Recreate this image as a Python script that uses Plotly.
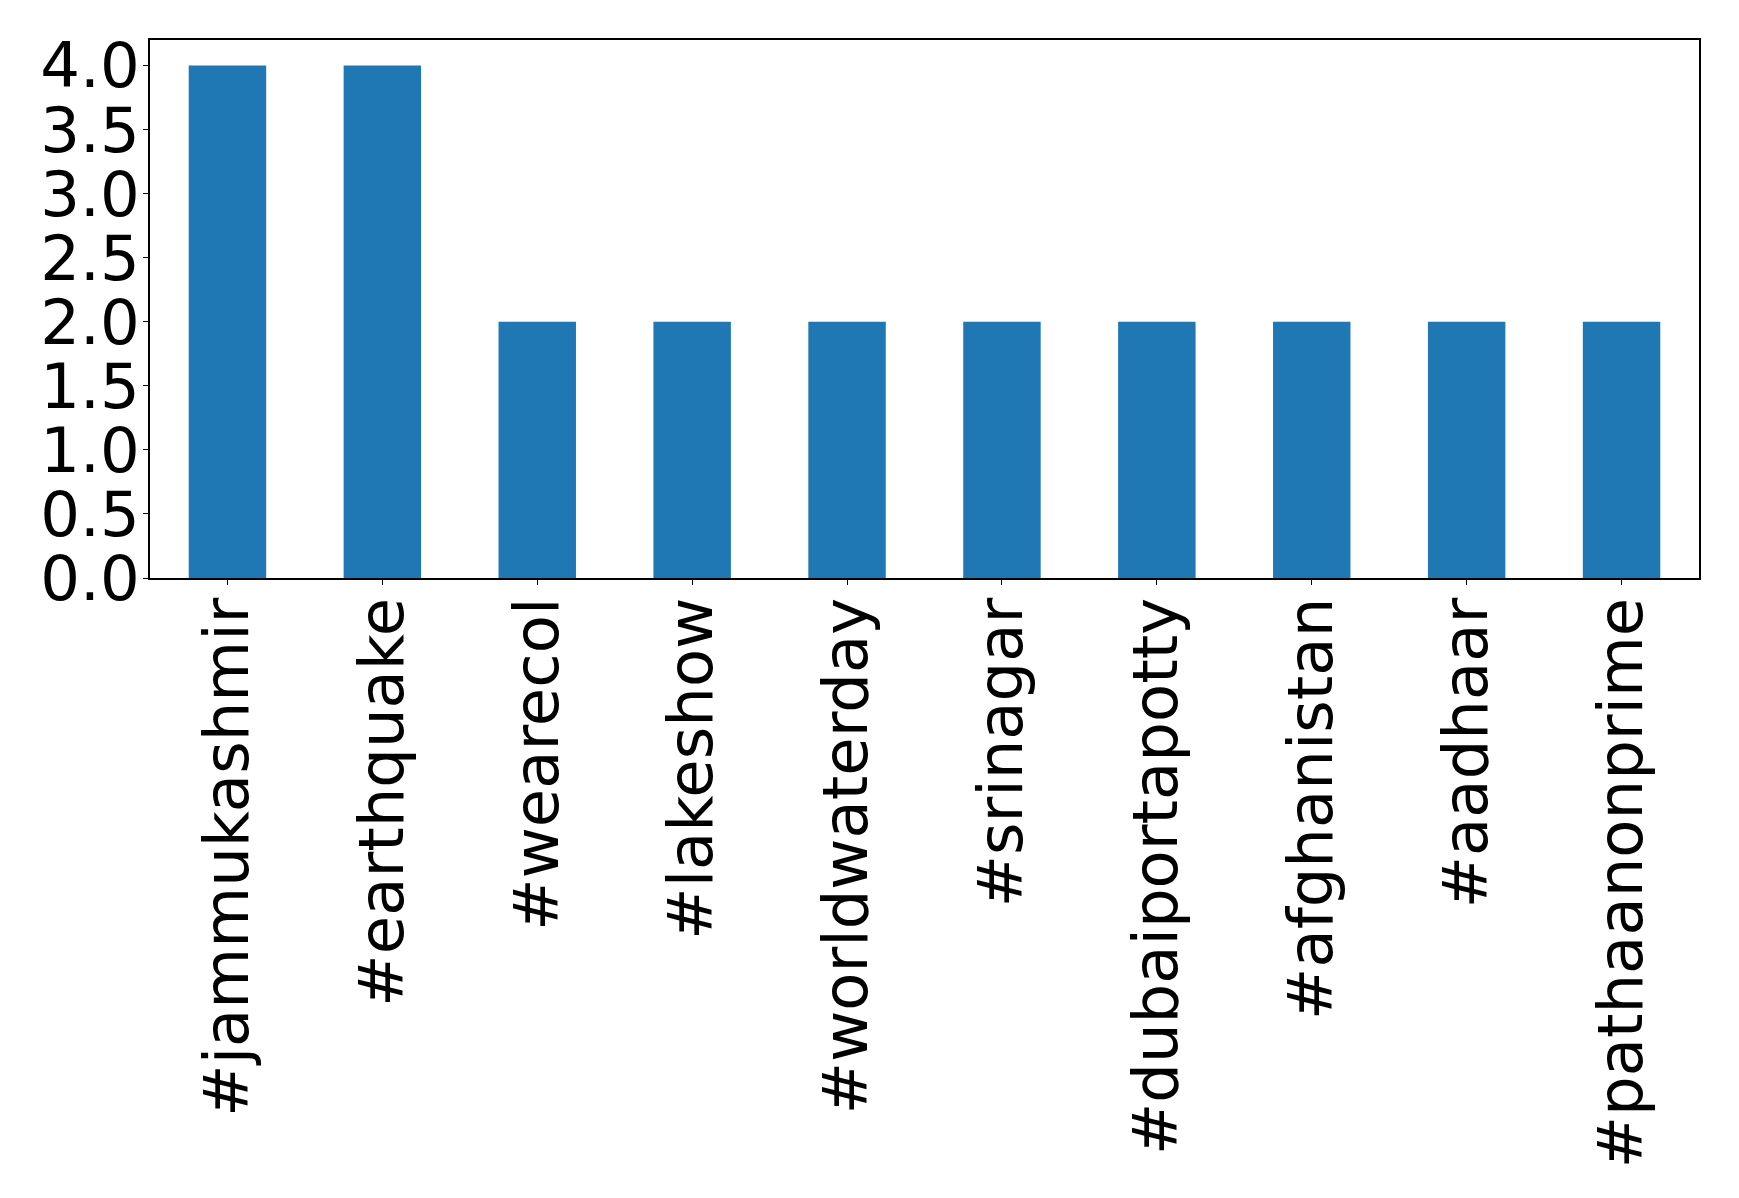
import plotly.graph_objects as go

categories = ["#jammukashmir", "#earthquake", "#wearecol", "#lakeshow", "#worldwaterday",
              "#srinagar", "#dubaiportapotty", "#afghanistan", "#aadhaar", "#pathaanonprime"]
values = [4, 4, 2, 2, 2, 2, 2, 2, 2, 2]
y_ticks = [0.0, 0.5, 1.0, 1.5, 2.0, 2.5, 3.0, 3.5, 4.0]

W, H = 1739, 1198
OFF = 8  # page body margin
L, R, T, B = 149.5 - OFF, 1699.5 - OFF, 39.5 - OFF, 578 - OFF

fig = go.Figure(go.Bar(x=list(range(len(categories))), y=values, width=0.5,
                       marker=dict(color="#1f77b4", line=dict(width=0))))

font = dict(family="DejaVu Sans", size=62.5, color="black")
fig.update_layout(
    width=W, height=H,
    margin=dict(l=L, r=W - R, t=T, b=H - B, pad=0),
    paper_bgcolor="white", plot_bgcolor="white",
    showlegend=False,
    font=font,
)
fig.update_xaxes(
    range=[-0.5, len(categories) - 0.5],
    tickmode="array", tickvals=list(range(len(categories))), ticktext=categories,
    tickangle=-90, ticks="outside", ticklen=5, tickwidth=1.2, tickcolor="black",
    showline=True, linecolor="black", linewidth=1.5, mirror=True,
    showgrid=False, zeroline=False, tickfont=font, ticklabelstandoff=-12,
)
fig.update_yaxes(
    range=[0, 4.2],
    tickmode="array", tickvals=y_ticks, ticktext=[f"{v:.1f}" for v in y_ticks],
    ticks="outside", ticklen=5, tickwidth=1.2, tickcolor="black",
    showline=True, linecolor="black", linewidth=1.5, mirror=True,
    showgrid=False, zeroline=False, tickfont=font, ticklabelstandoff=-9,
)
fig.write_html("out.html")
